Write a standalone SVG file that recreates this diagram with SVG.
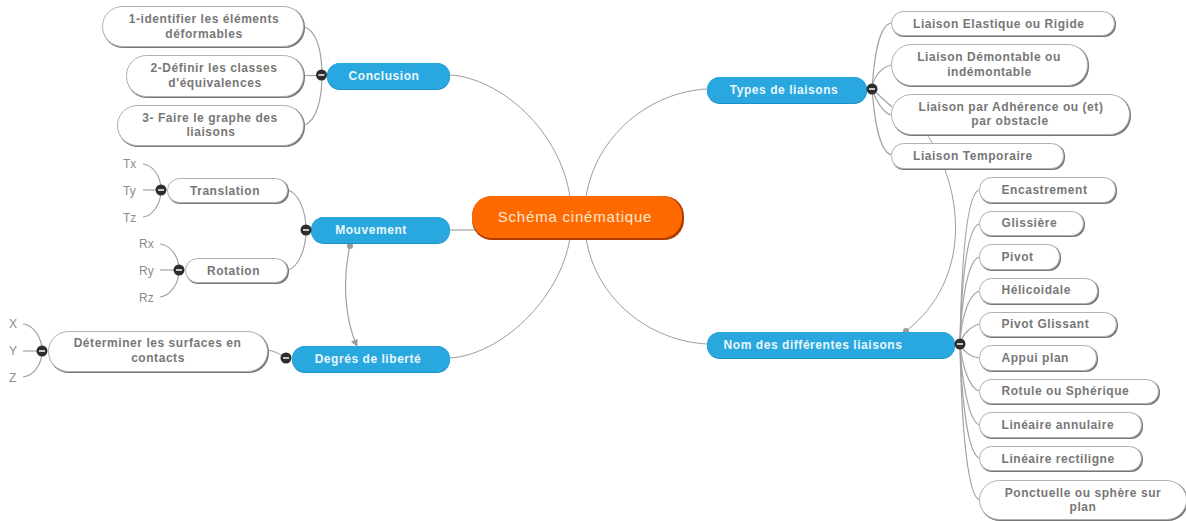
<svg xmlns="http://www.w3.org/2000/svg" xmlns:xlink="http://www.w3.org/1999/xlink" width="1186" height="521" viewBox="0 0 1186 521">
<style>
text{font-family:"Liberation Sans",Arial,sans-serif}
.c{fill:none;stroke:#a3a3a3;stroke-width:1.2}
.ct{fill:none;stroke:#9c9c9c;stroke-width:1}
.s{fill:#777}
.n{fill:#fff;stroke:#b0b0b0;stroke-width:1}
.t{font-size:12px;font-weight:bold;fill:#777;letter-spacing:.55px}
.m{text-anchor:middle}
.bs{fill:#1d8fc4}
.b{fill:#29a8e0}
.w{font-size:12px;font-weight:bold;fill:#eaf6fc;letter-spacing:.55px;text-anchor:middle}
.l{font-size:12px;fill:#8c8c8c}
.rd{fill:#999}
</style>
<defs>
<g id="tg"><circle r="5.5" fill="#2d2d2d"/><rect x="-3" y="-.8" width="6" height="1.6" fill="#eee"/></g>
<marker id="arr" viewBox="0 0 10 10" refX="9" refY="5" markerWidth="6" markerHeight="6" orient="auto"><path d="M0 0L10 5L0 10Z" fill="#999"/></marker>
</defs>
<rect width="1186" height="521" fill="#fff"/>
<g id="connectors">
<path class="ct" d="M570 197C560 130 500 78 450 75"/>
<path class="ct" d="M586 197C596 135 650 92 707 89"/>
<path class="ct" d="M570 238C560 300 500 355 450 358"/>
<path class="ct" d="M586 238C596 300 650 341 707 344"/>
<path class="c" d="M450 230H476"/>
<path class="c" d="M304 27C316 30 322 50 322 75"/>
<path class="c" d="M304 75.500H322"/>
<path class="c" d="M304 125C316 122 322 100 322 75"/>
<path class="c" d="M288 190C298 193 306 210 306 230"/>
<path class="c" d="M288 270C298 267 306 250 306 230"/>
<path class="c" d="M143 164C152 165 161 175 161 190"/>
<path class="c" d="M143 190H161"/>
<path class="c" d="M143 217C152 216 161 205 161 190"/>
<path class="c" d="M160 244C170 245 179 256 179 270"/>
<path class="c" d="M160 270H179"/>
<path class="c" d="M160 297C170 296 179 284 179 270"/>
<path class="c" d="M268 350C275 351 280 354 286 358"/>
<path class="c" d="M23 324C33 325 42 337 42 351"/>
<path class="c" d="M23 351H42"/>
<path class="c" d="M23 377C33 376 42 365 42 351"/>
<path class="c" d="M872 89C874 60 878 26 891 23"/>
<path class="c" d="M872 89C873 78 880 68 891 65"/>
<path class="c" d="M872 89L892 107"/>
<path class="c" d="M872 89C876 100 882 112 891 115"/>
<path class="c" d="M872 89C874 115 878 150 891 155"/>
<path class="c" d="M960 344C961 290 964 195 979 190"/>
<path class="c" d="M960 344C961 300 965 228 979 224"/>
<path class="c" d="M960 344C961 310 966 262 979 257"/>
<path class="c" d="M960 344C961 320 968 295 979 291"/>
<path class="c" d="M960 344C962 335 970 327 979 324"/>
<path class="c" d="M960 344C964 352 971 357 979 358"/>
<path class="c" d="M960 344C962 365 969 388 979 391"/>
<path class="c" d="M960 344C961 375 968 420 979 425"/>
<path class="c" d="M960 344C961 385 966 452 979 458"/>
<path class="c" d="M960 344C961 400 965 492 979 500"/>
<path class="ct" d="M926 133C965 190 972 280 906 331"/>
<circle class="rd" cx="906" cy="331" r="3"/>
<path class="c" d="M350 246C342 280 345 320 357 346" marker-end="url(#arr)"/>
<circle class="rd" cx="350" cy="246" r="3"/>
</g>
<g id="center"><rect x="472" y="196" width="212" height="44" rx="20" fill="#b03c00"/><rect x="472" y="196" width="210" height="42" rx="20" fill="#ff6a00"/><text x="575" y="222" font-size="15" fill="#fde6d2" letter-spacing=".8" class="m">Schéma cinématique</text></g>
<g id="conclusion"><rect class="bs" x="327" y="63" width="123" height="27" rx="13"/><rect class="b" x="327" y="63" width="123" height="26" rx="13"/><text class="w" x="384" y="80">Conclusion</text><use xlink:href="#tg" href="#tg" x="321.500" y="75"/></g>
<g id="mouvement"><rect class="bs" x="311" y="217" width="139" height="27" rx="13"/><rect class="b" x="311" y="217" width="139" height="26" rx="13"/><text class="w" x="371" y="234">Mouvement</text><use xlink:href="#tg" href="#tg" x="306" y="230"/></g>
<g id="degres"><rect class="bs" x="292" y="346" width="158" height="27" rx="13"/><rect class="b" x="292" y="346" width="158" height="26" rx="13"/><text class="w" x="368" y="363">Degrés de liberté</text><use xlink:href="#tg" href="#tg" x="286" y="358"/></g>
<g id="types"><rect class="bs" x="707" y="77" width="160" height="27" rx="13"/><rect class="b" x="707" y="77" width="160" height="26" rx="13"/><text class="w" x="784" y="94">Types de liaisons</text><use xlink:href="#tg" href="#tg" x="872" y="89"/></g>
<g id="noms"><rect class="bs" x="707" y="332" width="248" height="27" rx="13"/><rect class="b" x="707" y="332" width="248" height="26" rx="13"/><text class="w" x="813" y="349">Nom des différentes liaisons</text><use xlink:href="#tg" href="#tg" x="960" y="344"/></g>
<g id="n1"><rect class="s" x="103" y="7" width="202" height="41" rx="20"/><rect class="n" x="102.500" y="6.500" width="201" height="40" rx="20"/><text class="t m" x="204" y="23">1-identifier les éléments</text><text class="t m" x="204" y="37.500">déformables</text></g>
<g id="n2"><rect class="s" x="127" y="56" width="178" height="42" rx="20"/><rect class="n" x="126.500" y="55.500" width="177" height="41" rx="20"/><text class="t m" x="214" y="72">2-Définir les classes</text><text class="t m" x="215" y="87">d'équivalences</text></g>
<g id="n3"><rect class="s" x="118" y="106" width="187" height="41" rx="20"/><rect class="n" x="117.500" y="105.500" width="186" height="40" rx="20"/><text class="t m" x="210" y="122">3- Faire le graphe des</text><text class="t m" x="211" y="136">liaisons</text></g>
<g id="translation"><rect class="s" x="168" y="179" width="121" height="25" rx="12"/><rect class="n" x="167.500" y="178.500" width="120" height="24" rx="12"/><text class="t m" x="225" y="195">Translation</text><use xlink:href="#tg" href="#tg" x="161" y="190"/></g>
<g id="rotation"><rect class="s" x="186" y="259" width="103" height="25" rx="12"/><rect class="n" x="185.500" y="258.500" width="102" height="24" rx="12"/><text class="t m" x="233.500" y="275">Rotation</text><use xlink:href="#tg" href="#tg" x="179" y="270"/></g>
<g id="surfaces"><rect class="s" x="49" y="332" width="220" height="41" rx="20"/><rect class="n" x="48.500" y="331.500" width="219" height="40" rx="20"/><text class="t m" x="157.500" y="347">Déterminer les surfaces en</text><text class="t m" x="158" y="362">contacts</text><use xlink:href="#tg" href="#tg" x="42" y="351"/></g>
<g id="leaf-tx"><text class="l" x="123" y="168">Tx</text></g>
<g id="leaf-ty"><text class="l" x="123" y="195">Ty</text></g>
<g id="leaf-tz"><text class="l" x="123" y="222">Tz</text></g>
<g id="leaf-rx"><text class="l" x="139" y="248">Rx</text></g>
<g id="leaf-ry"><text class="l" x="139" y="275">Ry</text></g>
<g id="leaf-rz"><text class="l" x="139" y="302">Rz</text></g>
<g id="leaf-x"><text class="l" x="9" y="328">X</text></g>
<g id="leaf-y"><text class="l" x="9" y="355">Y</text></g>
<g id="leaf-z"><text class="l" x="9" y="382">Z</text></g>
<g id="elastique"><rect class="s" x="892" y="12" width="224" height="25" rx="12"/><rect class="n" x="891.500" y="11.500" width="223" height="24" rx="12"/><text class="t" x="913" y="28">Liaison Elastique ou Rigide</text></g>
<g id="demontable"><rect class="s" x="892" y="45" width="197" height="42" rx="20"/><rect class="n" x="891.500" y="44.500" width="196" height="41" rx="20"/><text class="t m" x="989" y="61">Liaison Démontable ou</text><text class="t m" x="989.500" y="76">indémontable</text></g>
<g id="adherence"><rect class="s" x="892" y="95" width="239" height="41" rx="20"/><rect class="n" x="891.500" y="94.500" width="238" height="40" rx="20"/><text class="t m" x="1011" y="111">Liaison par Adhérence ou (et)</text><text class="t m" x="1010" y="125">par obstacle</text></g>
<g id="temporaire"><rect class="s" x="892" y="144" width="173" height="26" rx="12"/><rect class="n" x="891.500" y="143.500" width="172" height="25" rx="12"/><text class="t" x="913" y="160">Liaison Temporaire</text></g>
<g id="encastrement"><rect class="s" x="980" y="178" width="137" height="26" rx="12"/><rect class="n" x="979.500" y="177.500" width="136" height="25" rx="12"/><text class="t" x="1001.500" y="194">Encastrement</text></g>
<g id="glissiere"><rect class="s" x="980" y="212" width="105" height="25" rx="12"/><rect class="n" x="979.500" y="211.500" width="104" height="24" rx="12"/><text class="t" x="1001.500" y="227">Glissière</text></g>
<g id="pivot"><rect class="s" x="980" y="245" width="81" height="26" rx="12"/><rect class="n" x="979.500" y="244.500" width="80" height="25" rx="12"/><text class="t" x="1001.500" y="261">Pivot</text></g>
<g id="helicoidale"><rect class="s" x="980" y="279" width="119" height="26" rx="12"/><rect class="n" x="979.500" y="278.500" width="118" height="25" rx="12"/><text class="t" x="1001.500" y="294">Hélicoidale</text></g>
<g id="pivot-glissant"><rect class="s" x="980" y="313" width="138" height="25" rx="12"/><rect class="n" x="979.500" y="312.500" width="137" height="24" rx="12"/><text class="t" x="1001.500" y="328">Pivot Glissant</text></g>
<g id="appui"><rect class="s" x="980" y="346" width="118" height="26" rx="12"/><rect class="n" x="979.500" y="345.500" width="117" height="25" rx="12"/><text class="t" x="1001.500" y="362">Appui plan</text></g>
<g id="rotule"><rect class="s" x="980" y="380" width="180" height="25" rx="12"/><rect class="n" x="979.500" y="379.500" width="179" height="24" rx="12"/><text class="t" x="1001.500" y="395">Rotule ou Sphérique</text></g>
<g id="annulaire"><rect class="s" x="980" y="413" width="163" height="26" rx="12"/><rect class="n" x="979.500" y="412.500" width="162" height="25" rx="12"/><text class="t" x="1001.500" y="429">Linéaire annulaire</text></g>
<g id="rectiligne"><rect class="s" x="980" y="447" width="163" height="25" rx="12"/><rect class="n" x="979.500" y="446.500" width="162" height="24" rx="12"/><text class="t" x="1001.500" y="463">Linéaire rectiligne</text></g>
<g id="ponctuelle"><rect class="s" x="980" y="481" width="208" height="40" rx="20"/><rect class="n" x="979.500" y="480.500" width="207" height="39" rx="20"/><text class="t m" x="1083" y="497">Ponctuelle ou sphère sur</text><text class="t m" x="1083" y="511">plan</text></g>
</svg>
